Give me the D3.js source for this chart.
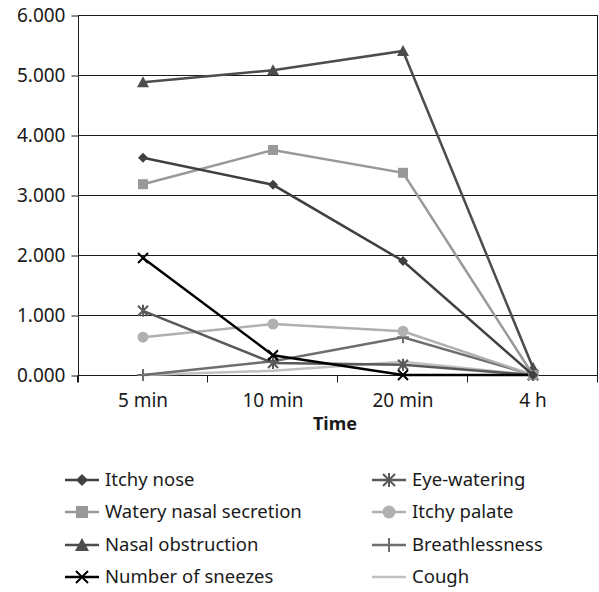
<!DOCTYPE html>
<html lang="en">
  <head>
    <meta charset="UTF-8" />
    <title>Symptoms over time</title>
    <script src="https://d3js.org/d3.v7.min.js"></script>
    <style>
      body {
        margin: 0;
        padding: 0;
        background-color: #fff;
      }
      text {
        font-family: "Noto Sans", "Open Sans", sans-serif;
        fill: #1a1a1a;
      }
    </style>
  </head>
  <body>
    <div id="chart"></div>

    <script>
      const categories = ["5 min", "10 min", "20 min", "4 h"];
      const yTicks = [0, 1, 2, 3, 4, 5, 6];

      const seriesNames = ["Itchy nose", "Watery nasal secretion", "Nasal obstruction", "Number of sneezes", "Eye-watering", "Itchy palate", "Breathlessness", "Cough"];
      const itchyNose = [3.62, 3.17, 1.9, 0];
      const wateryNasal = [3.18, 3.75, 3.37, 0];
      const nasalObstruction = [4.88, 5.08, 5.4, 0.12];
      const sneezes = [1.95, 0.33, 0, 0];
      const eyeWatering = [1.07, 0.2, 0.17, 0];
      const itchyPalate = [0.63, 0.85, 0.73, 0];
      const breathlessness = [0, 0.23, 0.63, 0];
      const cough = [0, 0.07, 0.22, 0];

      const seriesValues = [itchyNose, wateryNasal, nasalObstruction, sneezes, eyeWatering, itchyPalate, breathlessness, cough];
      const colors = ["#404040", "#999999", "#4d4d4d", "#000000", "#595959", "#b0b0b0", "#6e6e6e", "#c0c0c0"];
      const markers = ["diamond", "square", "triangle", "x", "asterisk", "circle", "plus", "none"];

      const width = 599;
      const height = 592;
      const margin = { left: 78, right: 1, top: 15, bottom: 217 };

      const svg = d3.select("#chart").append("svg").attr("width", width).attr("height", height);

      const x = d3.scaleBand().domain(categories).range([margin.left, width - margin.right]);
      const y = d3.scaleLinear().domain([0, 6]).range([height - margin.bottom, margin.top]);

      // gridlines
      svg
        .append("g")
        .selectAll("line")
        .data(yTicks)
        .enter()
        .append("line")
        .attr("x1", margin.left)
        .attr("x2", width - margin.right)
        .attr("y1", (d) => Math.round(y(d)) + 0.5)
        .attr("y2", (d) => Math.round(y(d)) + 0.5)
        .attr("stroke", "#1a1a1a");

      // right border
      svg
        .append("line")
        .attr("x1", width - margin.right - 0.5)
        .attr("x2", width - margin.right - 0.5)
        .attr("y1", y(6))
        .attr("y2", y(0))
        .attr("stroke", "#1a1a1a");

      // y axis
      const yAxis = svg
        .append("g")
        .attr("transform", `translate(${margin.left + 0.5},0.5)`)
        .call(d3.axisLeft(y).tickValues(yTicks).tickFormat(d3.format(".3f")).tickSize(7).tickPadding(6));
      yAxis.select(".domain").attr("stroke", "#1a1a1a").attr("d", `M0,${y(6)}V${y(0) + 7}`);
      yAxis.selectAll(".tick line").attr("stroke", "#1a1a1a");
      yAxis.selectAll("text").style("font-size", "19px").style("fill", "#1a1a1a");

      // x axis
      const xAxis = svg
        .append("g")
        .attr("transform", `translate(0,${Math.round(y(0)) + 0.5})`)
        .call(d3.axisBottom(x).tickSize(0).tickPadding(18));
      xAxis.select(".domain").remove();
      xAxis.selectAll("text").style("font-size", "19px").style("fill", "#1a1a1a");
      const bounds = categories.map((c) => x(c)).concat([width - margin.right]);
      xAxis
        .selectAll(".sep")
        .data(bounds)
        .enter()
        .append("line")
        .attr("x1", (d) => Math.round(d) - 0.5)
        .attr("x2", (d) => Math.round(d) - 0.5)
        .attr("y1", 0)
        .attr("y2", 7)
        .attr("stroke", "#1a1a1a");

      svg
        .append("text")
        .attr("x", margin.left + (width - margin.right - margin.left) / 2 - 3)
        .attr("y", 430)
        .attr("text-anchor", "middle")
        .style("font-size", "18px")
        .style("font-weight", "bold")
        .text("Time");

      function drawMarker(g, type, color, s) {
        if (type === "diamond") {
          g.append("path").attr("d", `M0,${-s}L${s},0L0,${s}L${-s},0Z`).attr("fill", color);
        } else if (type === "square") {
          g.append("rect").attr("x", -s).attr("y", -s).attr("width", 2 * s).attr("height", 2 * s).attr("fill", color);
        } else if (type === "triangle") {
          g.append("path").attr("d", `M0,${-s - 1}L${s + 1},${s}L${-s - 1},${s}Z`).attr("fill", color);
        } else if (type === "circle") {
          g.append("circle").attr("r", s + 0.5).attr("fill", color);
        } else if (type === "x") {
          g.append("path").attr("d", `M${-s},${-s}L${s},${s}M${-s},${s}L${s},${-s}`).attr("stroke", color).attr("stroke-width", 2);
        } else if (type === "asterisk") {
          g.append("path").attr("d", `M${-s},${-s}L${s},${s}M${-s},${s}L${s},${-s}M0,${-s - 1}V${s + 1}`).attr("stroke", color).attr("stroke-width", 2);
        } else if (type === "plus") {
          g.append("path").attr("d", `M${-s - 1},0H${s + 1}M0,${-s - 1}V${s + 1}`).attr("stroke", color).attr("stroke-width", 2);
        }
      }

      const line = d3
        .line()
        .x((d, i) => x(categories[i]) + x.bandwidth() / 2)
        .y((d) => y(d));

      // draw in reverse so first series sits on top
      for (let k = seriesNames.length - 1; k >= 0; k--) {
        const vals = seriesValues[k];
        svg.append("path").attr("d", line(vals)).attr("fill", "none").attr("stroke", colors[k]).attr("stroke-width", 2.5);
        vals.forEach((v, i) => {
          const g = svg.append("g").attr("transform", `translate(${x(categories[i]) + x.bandwidth() / 2},${y(v)})`);
          drawMarker(g, markers[k], colors[k], 5);
        });
      }

      // legend
      const legendCols = [65, 372];
      const legendRows = [480, 512, 545, 577];
      seriesNames.forEach((name, k) => {
        const lx = legendCols[Math.floor(k / 4)];
        const ly = legendRows[k % 4];
        const g = svg.append("g").attr("transform", `translate(${lx},${ly})`);
        g.append("line").attr("x1", 0).attr("x2", 34).attr("y1", 0).attr("y2", 0).attr("stroke", colors[k]).attr("stroke-width", 2.5);
        const m = g.append("g").attr("transform", "translate(17,0)");
        drawMarker(m, markers[k], colors[k], 6);
        g.append("text").attr("x", 40).attr("y", 0).attr("dy", "0.35em").style("font-size", "18.5px").text(name);
      });
    </script>
  </body>
</html>
